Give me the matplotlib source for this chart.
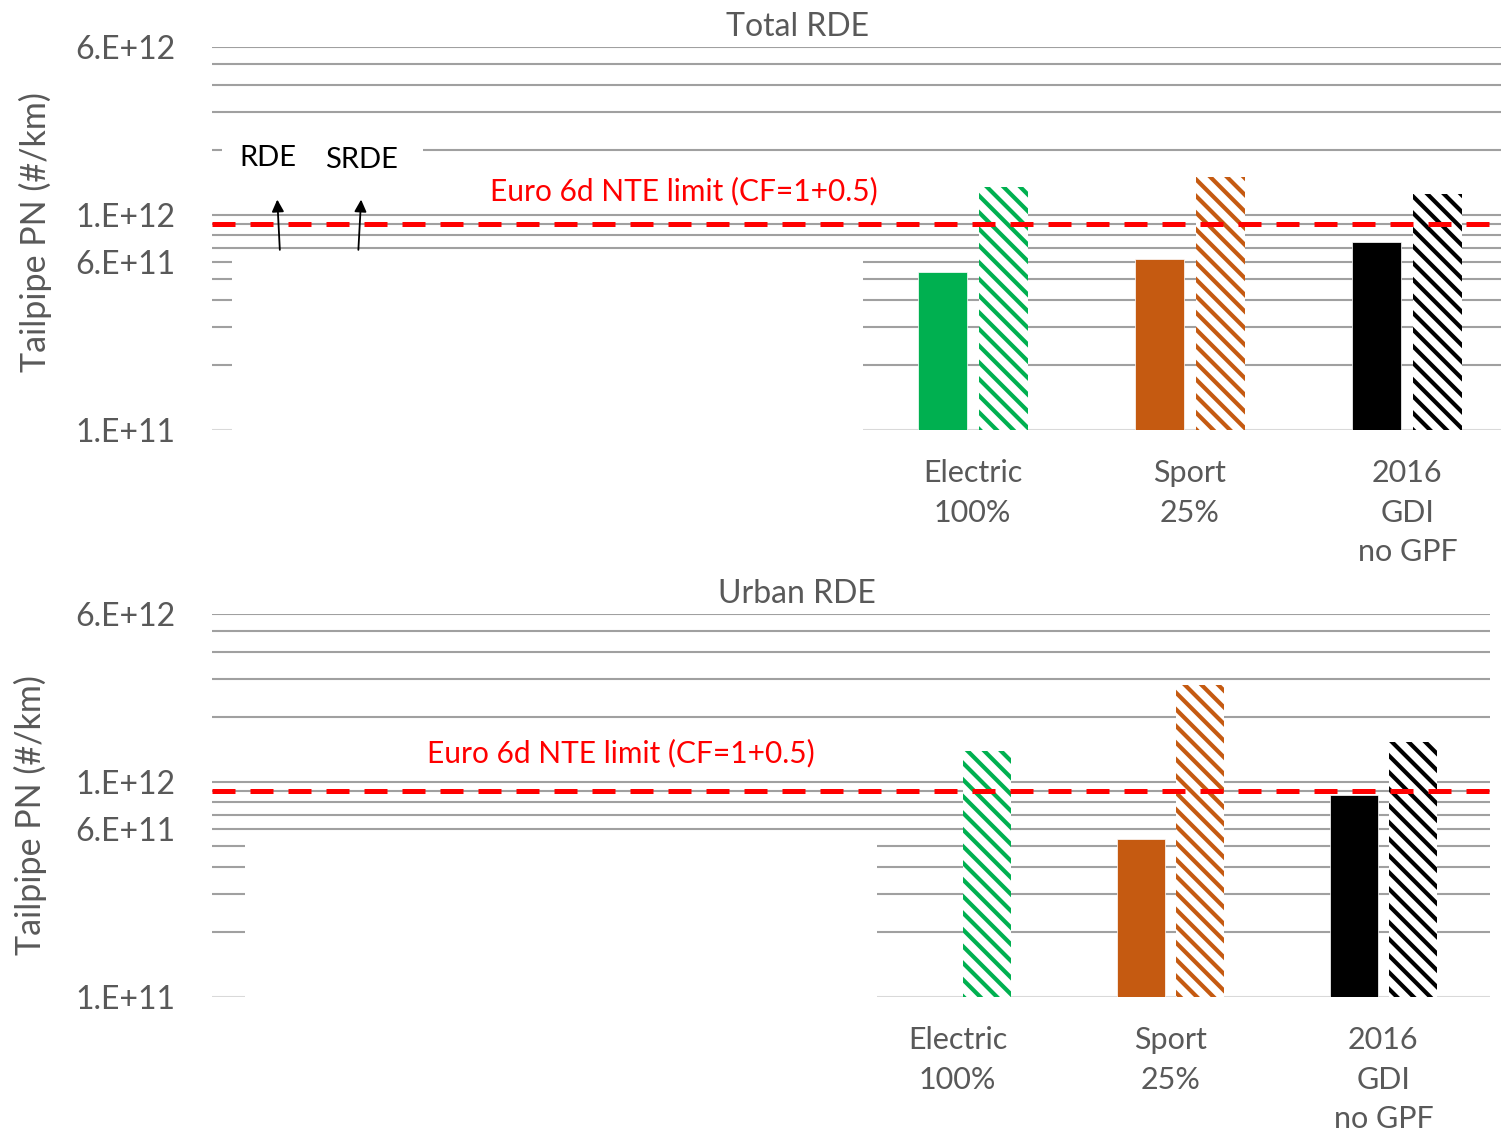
import numpy as np
import matplotlib
matplotlib.use('Agg')
import matplotlib.pyplot as plt
from matplotlib.patches import Rectangle

plt.rcParams['font.family'] = ['Lato', 'DejaVu Sans']
plt.rcParams['hatch.linewidth'] = 3.0

# data
categories = ['', '', '', 'Electric\n100%', 'Sport\n25%', '2016\nGDI\nno GPF']
bar_colors = ['#00b050', '#00b050', '#00b050', '#00b050', '#c55a11', '#000000']
total_rde = [np.nan, np.nan, np.nan, 5.4e11, 6.2e11, 7.5e11]
total_srde = [np.nan, np.nan, np.nan, 1.34e12, 1.49e12, 1.24e12]
urban_rde = [np.nan, np.nan, np.nan, np.nan, 5.4e11, 8.7e11]
urban_srde = [np.nan, np.nan, np.nan, 1.38e12, 2.8e12, 1.52e12]
nte_limit = 9e11
y_ticks = [1e11, 6e11, 1e12, 6e12]
y_ticklabels = ['1.E+11', '6.E+11', '1.E+12', '6.E+12']
grid_vals = [m * 10.0**e for e in (11, 12) for m in range(1, 10) if m * 10.0**e <= 6e12]

GRAY = '#595959'
W = 0.225
OFF = 0.14

fig = plt.figure(figsize=(15.01, 11.36), dpi=100)
ax1 = fig.add_axes([0.1412, 0.6215, 0.8688, 0.3371])
ax2 = fig.add_axes([0.1412, 0.1224, 0.8514, 0.3371])


def setup(ax, rde, srde, gap, lim_xy):
    ax.set_yscale('log')
    ax.set_xlim(-0.5, 5.5)
    ax.set_ylim(1e11, 6e12)
    for v in grid_vals:
        c = '#d9d9d9' if v == 1e11 else '#a0a0a0'
        ax.axhline(v, color=c, lw=1.5, zorder=0.5)
    for s in ax.spines.values():
        s.set_visible(False)
    ax.set_yticks(y_ticks)
    ax.set_yticklabels(y_ticklabels)
    ax.yaxis.set_minor_locator(matplotlib.ticker.NullLocator())
    ax.tick_params(axis='y', length=0, pad=26, labelsize=23, labelcolor=GRAY)
    ax.set_xticks(range(len(categories)))
    ax.set_xticklabels(categories, linespacing=1.5)
    ax.tick_params(axis='x', length=0, pad=21, labelsize=22, labelcolor=GRAY)
    # white block hiding the left part of the plot
    ax.add_patch(Rectangle((gap[0], 0.97e11), gap[1] - gap[0], gap[2] - 0.97e11,
                           facecolor='white', edgecolor='none', zorder=1, clip_on=False))
    x = np.arange(len(categories))
    for i in x:
        if not np.isnan(rde[i]):
            ax.bar(i - OFF, rde[i] - 1e11, W, bottom=1e11, color=bar_colors[i],
                   edgecolor='white', linewidth=0.5, zorder=2)
        if not np.isnan(srde[i]):
            ax.bar(i + OFF, srde[i] - 1e11, W, bottom=1e11, facecolor='white',
                   edgecolor=bar_colors[i], linewidth=0, hatch='\\\\', zorder=2)
    ax.axhline(nte_limit, xmin=0, xmax=1.01, color='#ff0000', lw=3.6,
               dashes=(4.6, 3), zorder=3, clip_on=False)
    ax.text(lim_xy[0], lim_xy[1], 'Euro 6d NTE limit (CF=1+0.5)', color='#ff0000',
            fontsize=21.5, ha='center', va='center', zorder=4)


setup(ax1, total_rde, total_srde, (-0.408, 2.495, 6.4e11), (1.67, 1.28e12))
setup(ax2, urban_rde, urban_srde, (-0.345, 2.622, 5.5e11), (1.42, 1.36e12))

# RDE / SRDE markers in the top panel
ax1.add_patch(Rectangle((-0.454, 1.75e12), 0.925, 0.5e12, facecolor='white',
                        edgecolor='none', zorder=1))
ax1.text(-0.242, 1.84e12, 'RDE', fontsize=21, ha='center', va='center', color='black')
ax1.text(0.187, 1.80e12, 'SRDE', fontsize=21, ha='center', va='center', color='black')
ax1.annotate('', xy=(-0.2, 1.21e12), xytext=(-0.187, 6.66e11),
             arrowprops=dict(arrowstyle='-|>', color='black', lw=1.3, mutation_scale=18))
ax1.annotate('', xy=(0.187, 1.21e12), xytext=(0.173, 6.66e11),
             arrowprops=dict(arrowstyle='-|>', color='black', lw=1.3, mutation_scale=18))

fig.text(797 / 1501, 1 - 27 / 1136, 'Total RDE', fontsize=23, color=GRAY,
         ha='center', va='center')
fig.text(797 / 1501, 1 - 594 / 1136, 'Urban RDE', fontsize=23, color=GRAY,
         ha='center', va='center')
fig.text(35 / 1501, 1 - 232 / 1136, 'Tailpipe PN (#/km)', fontsize=24.5, color=GRAY,
         rotation=90, ha='center', va='center')
fig.text(30 / 1501, 1 - 815 / 1136, 'Tailpipe PN (#/km)', fontsize=24.5, color=GRAY,
         rotation=90, ha='center', va='center')

fig.savefig('out.png', dpi=100, facecolor='white')
